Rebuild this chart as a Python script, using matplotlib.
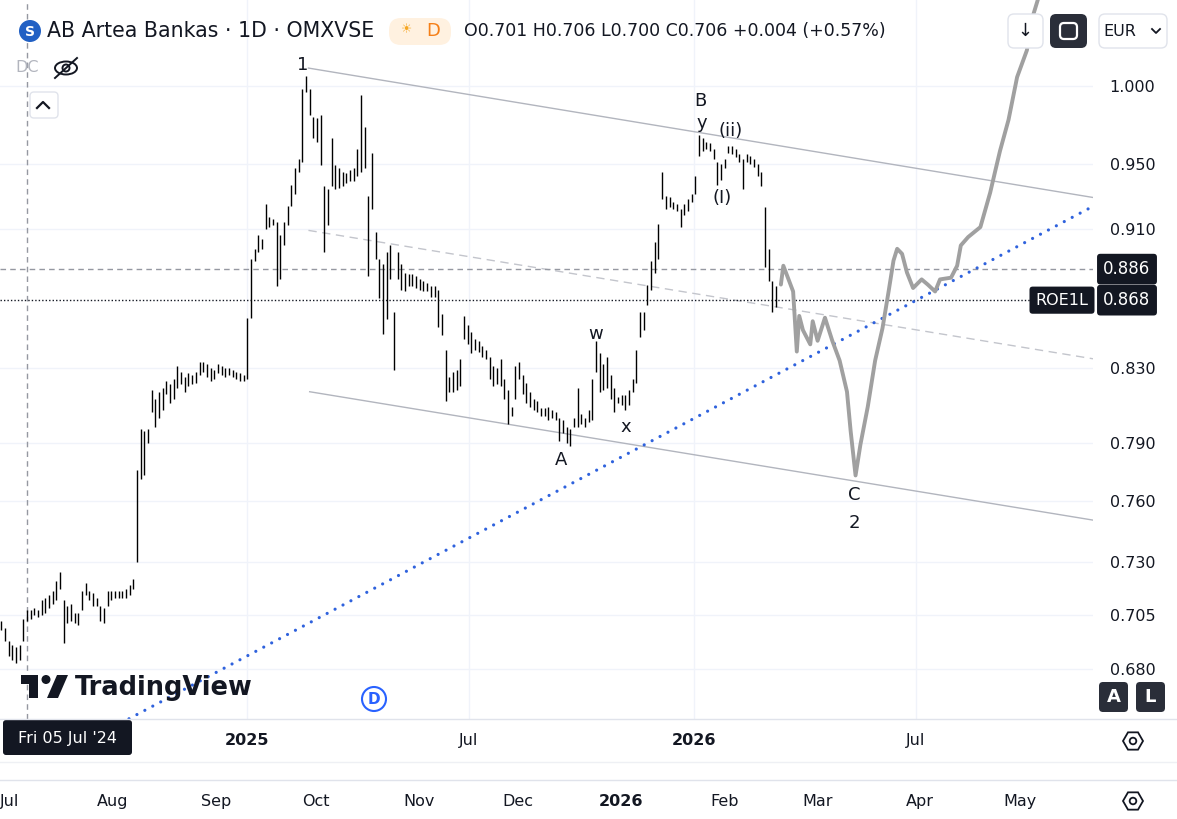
import matplotlib
matplotlib.use('Agg')
import numpy as np
import pandas as pd
import matplotlib.pyplot as plt
import matplotlib.dates as mdates
from matplotlib.patches import FancyBboxPatch, Circle, Ellipse, Polygon, RegularPolygon
from matplotlib.transforms import blended_transform_factory
from matplotlib.ticker import NullLocator

plt.rcParams['font.family'] = ['DejaVu Sans']

W, H = 1177, 819
INK = '#131722'

# price bars (one bar every third calendar day), high / low
bar_start = '2024-06-14'
bar_step = '3D'
highs = [
    0.702, 0.699, 0.693, 0.691, 0.690, 0.691, 0.703, 0.707, 0.707, 0.708,
    0.707, 0.712, 0.713, 0.714, 0.716, 0.721, 0.725, 0.712, 0.709, 0.710,
    0.706, 0.706, 0.716, 0.720, 0.716, 0.715, 0.713, 0.709, 0.708, 0.716,
    0.716, 0.716, 0.716, 0.716, 0.717, 0.719, 0.722, 0.776, 0.797, 0.796,
    0.797, 0.818, 0.813, 0.817, 0.819, 0.823, 0.821, 0.824, 0.831, 0.828,
    0.825, 0.827, 0.826, 0.828, 0.833, 0.833, 0.832, 0.830, 0.829, 0.832,
    0.831, 0.830, 0.830, 0.829, 0.828, 0.827, 0.826, 0.858, 0.892, 0.898,
    0.906, 0.904, 0.925, 0.917, 0.916, 0.914, 0.906, 0.914, 0.924, 0.937,
    0.947, 0.953, 0.998, 1.007, 0.998, 0.980, 0.979, 0.981, 0.936, 0.934,
    0.966, 0.949, 0.947, 0.945, 0.944, 0.946, 0.947, 0.959, 0.994, 0.973,
    0.930, 0.957, 0.908, 0.892, 0.889, 0.896, 0.900, 0.861, 0.896, 0.889,
    0.884, 0.883, 0.883, 0.882, 0.880, 0.879, 0.878, 0.876, 0.876, 0.874,
    0.860, 0.840, 0.825, 0.828, 0.829, 0.835, 0.859, 0.854, 0.850, 0.846,
    0.845, 0.842, 0.840, 0.836, 0.831, 0.830, 0.835, 0.824, 0.818, 0.809,
    0.831, 0.833, 0.826, 0.822, 0.817, 0.813, 0.812, 0.808, 0.808, 0.809,
    0.807, 0.806, 0.803, 0.802, 0.798, 0.797, 0.803, 0.819, 0.805, 0.803,
    0.807, 0.824, 0.845, 0.838, 0.832, 0.836, 0.826, 0.819, 0.814, 0.815,
    0.815, 0.818, 0.824, 0.840, 0.861, 0.861, 0.877, 0.891, 0.902, 0.913,
    0.945, 0.930, 0.929, 0.926, 0.925, 0.922, 0.925, 0.928, 0.931, 0.942,
    0.968, 0.966, 0.964, 0.963, 0.959, 0.951, 0.950, 0.953, 0.961, 0.961,
    0.959, 0.956, 0.953, 0.956, 0.955, 0.953, 0.950, 0.945, 0.923, 0.898,
    0.879, 0.876,
]
lows = [
    0.698, 0.693, 0.686, 0.684, 0.683, 0.684, 0.693, 0.702, 0.703, 0.705,
    0.704, 0.705, 0.706, 0.708, 0.710, 0.712, 0.717, 0.692, 0.701, 0.702,
    0.701, 0.700, 0.707, 0.714, 0.712, 0.709, 0.709, 0.702, 0.701, 0.709,
    0.712, 0.713, 0.713, 0.713, 0.713, 0.714, 0.717, 0.730, 0.771, 0.773,
    0.790, 0.806, 0.798, 0.803, 0.807, 0.816, 0.811, 0.813, 0.819, 0.821,
    0.817, 0.820, 0.821, 0.822, 0.826, 0.828, 0.825, 0.823, 0.824, 0.827,
    0.826, 0.825, 0.826, 0.825, 0.824, 0.823, 0.823, 0.824, 0.858, 0.891,
    0.896, 0.898, 0.910, 0.911, 0.912, 0.876, 0.880, 0.900, 0.912, 0.924,
    0.931, 0.945, 0.951, 0.996, 0.981, 0.966, 0.964, 0.949, 0.896, 0.912,
    0.936, 0.934, 0.935, 0.936, 0.938, 0.939, 0.939, 0.942, 0.945, 0.947,
    0.882, 0.922, 0.892, 0.869, 0.849, 0.857, 0.880, 0.829, 0.880, 0.874,
    0.873, 0.876, 0.876, 0.875, 0.874, 0.873, 0.873, 0.870, 0.870, 0.853,
    0.848, 0.812, 0.817, 0.817, 0.818, 0.820, 0.846, 0.843, 0.838, 0.840,
    0.839, 0.836, 0.835, 0.824, 0.820, 0.821, 0.820, 0.813, 0.800, 0.804,
    0.813, 0.824, 0.816, 0.811, 0.809, 0.807, 0.806, 0.804, 0.804, 0.802,
    0.803, 0.802, 0.791, 0.795, 0.790, 0.788, 0.798, 0.798, 0.800, 0.798,
    0.801, 0.802, 0.828, 0.817, 0.818, 0.819, 0.813, 0.806, 0.811, 0.810,
    0.807, 0.810, 0.817, 0.822, 0.847, 0.851, 0.865, 0.874, 0.884, 0.892,
    0.928, 0.922, 0.923, 0.922, 0.921, 0.911, 0.918, 0.921, 0.926, 0.931,
    0.955, 0.958, 0.959, 0.958, 0.953, 0.937, 0.940, 0.947, 0.957, 0.956,
    0.954, 0.951, 0.934, 0.951, 0.950, 0.948, 0.942, 0.936, 0.887, 0.879,
    0.861, 0.864,
]

# hand-drawn projection (grey path)
proj_dates = [
    '2026-03-13', '2026-03-15', '2026-03-23', '2026-03-26', '2026-03-28', '2026-03-31',
    '2026-04-06', '2026-04-08', '2026-04-12', '2026-04-18', '2026-04-24', '2026-04-30',
    '2026-05-06', '2026-05-09', '2026-05-13', '2026-05-17', '2026-05-23', '2026-05-29',
    '2026-06-04', '2026-06-09', '2026-06-13', '2026-06-16', '2026-06-20', '2026-06-24',
    '2026-06-29', '2026-07-06', '2026-07-11', '2026-07-17', '2026-07-21', '2026-07-30',
    '2026-08-04', '2026-08-07', '2026-08-13', '2026-08-23', '2026-08-31', '2026-09-04',
    '2026-09-08', '2026-09-15', '2026-09-22', '2026-09-30', '2026-10-04', '2026-10-09',
]
proj_prices = [
    0.877, 0.888, 0.873, 0.839, 0.859, 0.851,
    0.843, 0.856, 0.845, 0.858, 0.845, 0.834,
    0.817, 0.796, 0.773, 0.789, 0.809, 0.834,
    0.852, 0.873, 0.891, 0.898, 0.895, 0.884,
    0.875, 0.880, 0.877, 0.873, 0.880, 0.881,
    0.888, 0.900, 0.905, 0.911, 0.932, 0.945,
    0.958, 0.978, 1.006, 1.024, 1.045, 1.059,
]

# channel and trend lines (two anchor points each)
upper_dates, upper_prices = ['2025-02-20', '2026-11-23'], [1.012, 0.929]
mid_dates, mid_prices = ['2025-02-20', '2026-11-23'], [0.909, 0.835]
lower_dates, lower_prices = ['2025-02-21', '2026-11-23'], [0.817, 0.7505]
trend_dates, trend_prices = ['2024-08-25', '2026-11-19'], [0.649, 0.922]

wave_labels = ['1', 'B', 'y', '(ii)', '(I)', 'w', 'x', 'A', 'C', '2']
wave_dates = ['2025-02-15', '2026-01-06', '2026-01-07', '2026-01-31', '2026-01-24',
              '2025-10-13', '2025-11-06', '2025-09-14', '2026-05-12', '2026-05-12']
wave_prices = [1.014, 0.990, 0.976, 0.971, 0.9286, 0.849, 0.798, 0.781, 0.763, 0.749]

price_ticks = [0.680, 0.705, 0.730, 0.760, 0.790, 0.830, 0.910, 0.950, 1.000]
time_ticks = ['2025-01-01', '2025-07-01', '2026-01-01', '2026-07-01']
time_labels = ['2025', 'Jul', '2026', 'Jul']
lower_ticks = ['2025-07-01', '2025-08-01', '2025-09-01', '2025-10-01', '2025-11-01', '2025-12-01',
               '2026-01-01', '2026-02-01', '2026-03-01', '2026-04-01', '2026-05-01']
lower_labels = ['Jul', 'Aug', 'Sep', 'Oct', 'Nov', 'Dec', '2026', 'Feb', 'Mar', 'Apr', 'May']

last_price = 0.868
alert_price = 0.886
cross_date = '2024-07-05'


def dn(d):
    return mdates.date2num(pd.to_datetime(d))


fig = plt.figure(figsize=(W / 100, H / 100), dpi=100)
fig.patch.set_facecolor('white')

ax = fig.add_axes([0, 100 / H, 1093 / W, 719 / H])
ax.set_yscale('log')
ax.set_ylim(0.658, 1.0586)
ax.set_xlim(dn('2024-06-13'), dn('2026-11-23'))
for s in ax.spines.values():
    s.set_visible(False)

ax.set_yticks(price_ticks)
ax.set_yticklabels(['%.3f' % p for p in price_ticks])
ax.yaxis.set_minor_locator(NullLocator())
ax.yaxis.tick_right()
ax.tick_params(axis='y', which='both', length=0, pad=12, labelsize=11.5, labelcolor=INK)
ax.set_xticks(dn(time_ticks))
ax.set_xticklabels(time_labels)
ax.tick_params(axis='x', length=0, pad=10, labelsize=11.5, labelcolor=INK)
for lbl in ax.get_xticklabels():
    if lbl.get_text().isdigit():
        lbl.set_fontweight('bold')
ax.set_axisbelow(True)
ax.grid(True, color='#f0f3fa', lw=1)

# bars
bar_x = dn(pd.date_range(bar_start, periods=len(highs), freq=bar_step))
ax.vlines(bar_x, lows, highs, color='black', lw=1.0, snap=True, zorder=3)

# drawings
ax.plot(dn(upper_dates), upper_prices, color='#b2b5be', lw=1, zorder=2)
ax.plot(dn(mid_dates), mid_prices, color='#c3c5cc', lw=1, ls=(0, (6, 4)), zorder=2)
ax.plot(dn(lower_dates), lower_prices, color='#b2b5be', lw=1, zorder=2)
ax.axvline(dn(cross_date), color='#9598a1', lw=1, ls=(0, (4, 3)), zorder=2)
ax.axhline(alert_price, color='#9598a1', lw=1, ls=(0, (4, 3)), zorder=2)
ax.axhline(last_price, color=INK, lw=1, ls=(0, (1, 1.5)), zorder=2)
ax.plot(dn(trend_dates), trend_prices, color='#2f62dd', lw=2.3, ls=(0, (0.01, 2.8)),
        dash_capstyle='round', zorder=4)
ax.plot(dn(proj_dates), proj_prices, color='#a0a0a0', lw=2.8,
        solid_joinstyle='round', solid_capstyle='round', zorder=5)

for t, d, p in zip(wave_labels, wave_dates, wave_prices):
    ax.text(dn(d), p, t, ha='center', va='center', fontsize=13, color=INK, zorder=6)

# price scale labels
tr = blended_transform_factory(ax.transAxes, ax.transData)
box = dict(boxstyle='round,pad=0.38,rounding_size=0.2', fc=INK, ec='none')
ax.text(1127 / 1093, alert_price, '%.3f' % alert_price, transform=tr, ha='center', va='center',
        color='white', fontsize=12, bbox=box, clip_on=False, zorder=10)
ax.text(1127 / 1093, last_price, '%.3f' % last_price, transform=tr, ha='center', va='center',
        color='white', fontsize=12, bbox=box, clip_on=False, zorder=10)
ax.text(1062 / 1093, last_price, 'ROE1L', transform=tr, ha='center', va='center',
        color='white', fontsize=11.5, bbox=box, clip_on=False, zorder=10)

# second (lower) time scale
ax2 = fig.add_axes([0, (H - 780) / H, 1093 / W, 0.0001])
ax2.set_xlim(dn('2025-06-28'), dn('2026-05-23'))
for s in ax2.spines.values():
    s.set_visible(False)
ax2.set_yticks([])
ax2.set_xticks(dn(lower_ticks))
ax2.set_xticklabels(lower_labels)
ax2.tick_params(axis='x', length=0, pad=10, labelsize=11.5, labelcolor=INK)
for lbl in ax2.get_xticklabels():
    if lbl.get_text().isdigit():
        lbl.set_fontweight('bold')

# UI overlay in pixel units
ov = fig.add_axes([0, 0, 1, 1], zorder=5)
ov.set_xlim(0, W)
ov.set_ylim(H, 0)
ov.axis('off')
ov.patch.set_alpha(0)


def rbox(x, y, w, h, fc='white', ec='none', r=4, lw=1):
    ov.add_patch(FancyBboxPatch((x, y), w, h, boxstyle='round,pad=0,rounding_size=%g' % r,
                                fc=fc, ec=ec, lw=lw))


for yy, c in [(719, '#e0e3eb'), (762, '#eef0f4'), (780, '#e0e3eb')]:
    ov.plot([0, W], [yy, yy], color=c, lw=1)

# header
ov.add_patch(Circle((30, 31), 11, fc='#2160c4', ec='none'))
ov.text(30, 31.5, 'S', color='white', fontsize=10, fontweight='bold', ha='center', va='center')
ov.text(47, 31, 'AB Artea Bankas · 1D · OMXVSE', fontsize=14.8, color=INK, va='center')
rbox(389, 18, 62, 27, fc='#fff1e0', r=12)
ov.text(407, 30, '☀', fontsize=9, color='#f5a623', ha='center', va='center')
ov.text(433, 31, 'D', fontsize=13, color='#f57f17', ha='center', va='center')
ov.text(464, 31, 'O0.701 H0.706 L0.700 C0.706 +0.004 (+0.57%)', fontsize=12.5,
        color=INK, va='center')

ov.text(27, 68, 'DC', fontsize=11.5, color='#b2b5be', ha='center', va='center')
ov.add_patch(Ellipse((66, 68), 22, 13, fill=False, ec=INK, lw=1.4))
ov.add_patch(Circle((66, 68), 3.5, fill=False, ec=INK, lw=1.4))
ov.plot([55, 77], [78, 58], color=INK, lw=1.4)
rbox(30, 92, 28, 26, fc='white', ec='#e0e3eb', r=4)
ov.plot([37, 43, 49], [108, 102, 108], color=INK, lw=1.6)

rbox(1008, 14, 35, 34, fc='white', ec='#e0e3eb', r=6)
ov.text(1025, 31, '↓', fontsize=13, color=INK, ha='center', va='center')
rbox(1050, 14, 37, 34, fc='#2a2e39', r=6)
rbox(1060, 23, 17, 16, fc='none', ec='white', r=4, lw=1.6)
rbox(1099, 14, 68, 34, fc='white', ec='#e0e3eb', r=6)
ov.text(1120, 31, 'EUR', fontsize=11.5, color=INK, ha='center', va='center')
ov.plot([1152, 1156, 1160], [29, 33, 29], color=INK, lw=1.3)

# bottom widgets
rbox(3, 720, 129, 35, fc=INK, r=3)
ov.text(67, 738, "Fri 05 Jul '24", fontsize=11.5, color='white', ha='center', va='center')
rbox(1099, 682, 29, 30, fc='#2a2e39', r=4)
ov.text(1113.5, 697, 'A', fontsize=13, fontweight='bold', color='white', ha='center', va='center')
rbox(1136, 682, 29, 30, fc='#2a2e39', r=4)
ov.text(1150.5, 697, 'L', fontsize=13, fontweight='bold', color='white', ha='center', va='center')
for yy in (741, 801):
    ov.add_patch(RegularPolygon((1133, yy), 6, radius=10, orientation=np.pi / 6,
                                fill=False, ec=INK, lw=1.3))
    ov.add_patch(Circle((1133, yy), 3.3, fill=False, ec=INK, lw=1.3))

# watermark
ov.add_patch(Polygon([(21, 675), (38, 675), (38, 698), (29, 698), (29, 684), (21, 684)],
                     closed=True, fc=INK, ec='none'))
ov.add_patch(Circle((46, 679.5), 4.5, fc=INK, ec='none'))
ov.add_patch(Polygon([(57, 675), (68, 675), (58, 698), (47, 698)], closed=True, fc=INK, ec='none'))
ov.text(75, 688, 'TradingView', fontsize=18.5, fontweight='bold', color=INK, va='center')

ov.add_patch(Circle((374, 699), 12, fc='white', ec='#2962ff', lw=1.5))
ov.text(374, 699.5, 'D', fontsize=11, fontweight='bold', color='#2962ff', ha='center', va='center')

fig.savefig('out.png', dpi=100)
